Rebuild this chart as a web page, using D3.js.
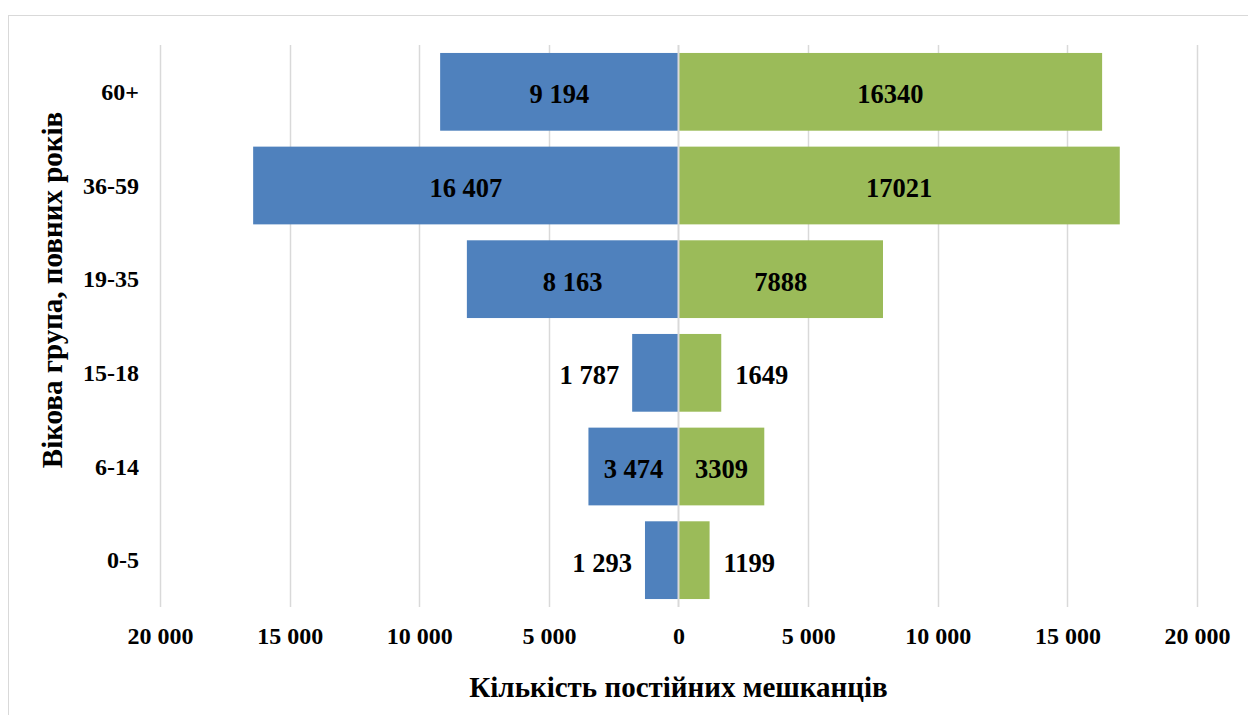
<!DOCTYPE html>
<html>
<head>
<meta charset="utf-8">
<script src="https://cdn.jsdelivr.net/npm/d3@7"></script>
<style>
  html, body { margin: 0; padding: 0; background: #fff; }
  svg { display: block; }
  text { font-family: "Liberation Serif", "Times New Roman", serif; font-weight: bold; fill: #000; }
</style>
</head>
<body>
<svg id="chart" width="1248" height="715"></svg>
<script>
// ---- data ----
const categories = ["60+", "36-59", "19-35", "15-18", "6-14", "0-5"];
const leftValues = [9194, 16407, 8163, 1787, 3474, 1293];   // blue, drawn to the left
const rightValues = [16340, 17021, 7888, 1649, 3309, 1199]; // green, drawn to the right
const tickValues = [-20000, -15000, -10000, -5000, 0, 5000, 10000, 15000, 20000];
const xTitle = "Кількість постійних мешканців";
const yTitle = "Вікова група, повних років";

// ---- layout ----
const W = 1248, H = 715;
const plot = { left: 160, right: 1197, top: 45, bottom: 607 };
const blue = "#4f81bd", green = "#9bbb59", grid = "#d9d9d9";

const svg = d3.select("#chart");

// chart area border
svg.append("rect")
  .attr("x", 8.5).attr("y", 15.5)
  .attr("width", W + 10).attr("height", H + 10)
  .attr("fill", "#fff").attr("stroke", grid).attr("stroke-width", 1);

const x = d3.scaleLinear().domain([-20000, 20000]).range([plot.left, plot.right]);
const y = d3.scaleBand().domain(categories).range([plot.top, plot.bottom])
  .paddingInner(0.17).paddingOuter(0.085);

const spaced = d3.formatLocale({ decimal: ",", thousands: "\u00a0", grouping: [3], currency: ["", ""] }).format(",d");

// gridlines
svg.append("g").selectAll("line")
  .data(tickValues.filter(d => d !== 0))
  .join("line")
  .attr("x1", d => Math.round(x(d)) + 0.5).attr("x2", d => Math.round(x(d)) + 0.5)
  .attr("y1", plot.top).attr("y2", plot.bottom)
  .attr("stroke", grid).attr("stroke-width", 1.5);

// bars
const rows = categories.map((c, i) => ({ c, l: leftValues[i], r: rightValues[i] }));
svg.append("g").selectAll("rect")
  .data(rows).join("rect")
  .attr("x", d => x(-d.l)).attr("y", d => y(d.c))
  .attr("width", d => x(0) - x(-d.l)).attr("height", y.bandwidth())
  .attr("fill", blue);
svg.append("g").selectAll("rect")
  .data(rows).join("rect")
  .attr("x", x(0)).attr("y", d => y(d.c))
  .attr("width", d => x(d.r) - x(0)).attr("height", y.bandwidth())
  .attr("fill", green);

// zero axis line
svg.append("line")
  .attr("x1", Math.round(x(0)) - 0.5).attr("x2", Math.round(x(0)) - 0.5)
  .attr("y1", plot.top).attr("y2", plot.bottom)
  .attr("stroke", grid).attr("stroke-width", 2);

// x axis tick labels
const xAxis = d3.axisBottom(x).tickValues(tickValues)
  .tickFormat(d => spaced(Math.abs(d))).tickSize(0).tickPadding(0);
const gx = svg.append("g").attr("transform", `translate(0,${plot.bottom})`).call(xAxis);
gx.select(".domain").remove();
gx.selectAll("text").attr("dy", null).attr("y", 37)
  .style("font-size", "24px").style("font-family", "Liberation Serif").style("font-weight", "bold");

// y axis category labels
const yAxis = d3.axisLeft(y).tickSize(0).tickPadding(0);
const gy = svg.append("g").attr("transform", `translate(139,0)`).call(yAxis);
gy.select(".domain").remove();
gy.selectAll("text").attr("dy", "0.34em")
  .style("font-size", "24px").style("font-family", "Liberation Serif").style("font-weight", "bold");

// data labels
const labelSize = 26.5;
const gl = svg.append("g").style("font-size", labelSize + "px");
rows.forEach(d => {
  const cy = y(d.c) + y.bandwidth() / 2;
  // left (blue)
  const lt = gl.append("text").text(spaced(d.l)).attr("dy", "0.44em");
  const lw = lt.node().getComputedTextLength();
  const bl = x(0) - x(-d.l);
  if (lw + 16 < bl) {
    lt.attr("x", (x(-d.l) + x(0)) / 2).attr("y", cy).attr("text-anchor", "middle");
  } else {
    lt.attr("x", x(-d.l) - 13).attr("y", cy).attr("text-anchor", "end");
  }
  // right (green)
  const rt = gl.append("text").text(String(d.r)).attr("dy", "0.44em");
  const rw = rt.node().getComputedTextLength();
  const br = x(d.r) - x(0);
  if (rw + 16 < br) {
    rt.attr("x", (x(0) + x(d.r)) / 2).attr("y", cy).attr("text-anchor", "middle");
  } else {
    rt.attr("x", x(d.r) + 14).attr("y", cy).attr("text-anchor", "start");
  }
});

// axis titles
svg.append("text")
  .attr("x", (plot.left + plot.right) / 2).attr("y", 697)
  .attr("text-anchor", "middle")
  .style("font-size", "29px")
  .text(xTitle);

svg.append("text")
  .attr("transform", `translate(62,290) rotate(-90)`)
  .attr("text-anchor", "middle")
  .style("font-size", "29px")
  .text(yTitle);
</script>
</body>
</html>
